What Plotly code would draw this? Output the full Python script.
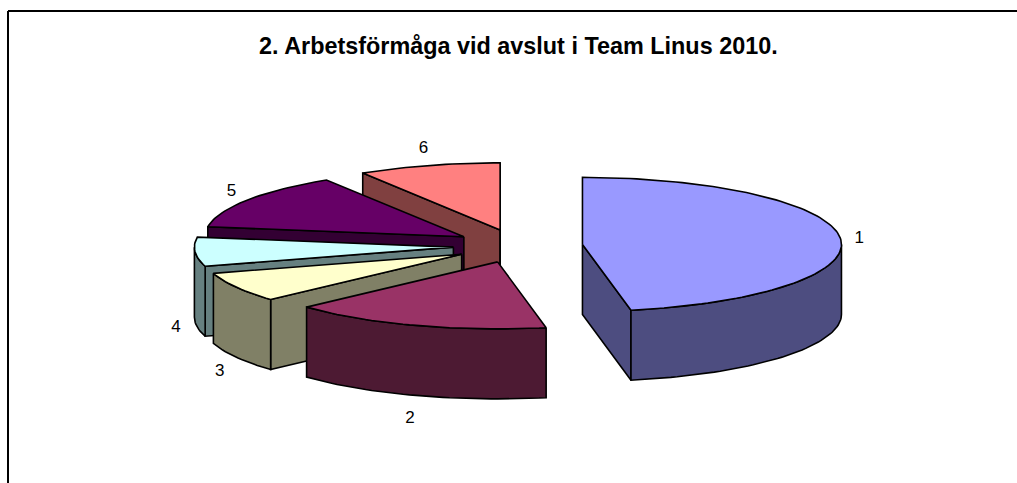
import math
import plotly.graph_objects as go

# ---- data ----
categories = ["1", "2", "3", "4", "5", "6"]
shares = [47.0, 16.2, 7.2, 7.0, 13.7, 8.9]
title_text = "2. Arbetsförmåga vid avslut i Team Linus 2010."

# ---- styling ----
top_colors = ["#9999FF", "#993366", "#FFFFCC", "#CCFFFF", "#660066", "#FF8080"]
wall_colors = ["#4D4D80", "#4D1A33", "#808066", "#668080", "#330033", "#804040"]
FONT = "Liberation Sans, Arial, sans-serif"

# ---- projection of the tilted pie, in the page's pixel space ----
CX, CY = 518.0, 246.0
RX, RY = 259.0, 67.0
DEPTH = 70.0
EXPLODE = 0.25
LABEL_PAD = 19.0
W, H = 1017, 483


def on_rim(apex, deg, drop=0.0):
    a = math.radians(deg)
    return apex[0] + RX * math.sin(a), apex[1] - RY * math.cos(a) + drop


def arc(apex, a0, a1, drop=0.0, step=1.5):
    n = max(2, int(abs(a1 - a0) / step) + 1)
    return [on_rim(apex, a0 + (a1 - a0) * i / (n - 1), drop) for i in range(n)]


def poly(points, color):
    return go.Scatter(
        x=[p[0] for p in points] + [points[0][0]],
        y=[p[1] for p in points] + [points[0][1]],
        mode="lines",
        fill="toself",
        fillcolor=color,
        line=dict(color="black", width=1.6),
        hoverinfo="skip",
        showlegend=False,
    )


total = sum(shares)
slices = []
acc = 0.0
for i, v in enumerate(shares):
    start = acc / total * 360
    acc += v
    end = acc / total * 360
    mid = (start + end) / 2
    m = math.radians(mid)
    apex = (CX + EXPLODE * RX * math.sin(m), CY - EXPLODE * RY * math.cos(m))
    slices.append((i, start, end, mid, apex))

fig = go.Figure()
# painter's order: back slices first, the separated big slice last
for i, start, end, mid, apex in [slices[5], slices[4], slices[3], slices[2], slices[1], slices[0]]:
    down = (apex[0], apex[1] + DEPTH)
    if math.sin(math.radians(start)) < 0:
        p = on_rim(apex, start)
        fig.add_trace(poly([apex, p, (p[0], p[1] + DEPTH), down], wall_colors[i]))
    if math.sin(math.radians(end)) > 0:
        p = on_rim(apex, end)
        fig.add_trace(poly([apex, p, (p[0], p[1] + DEPTH), down], wall_colors[i]))
    lo, hi = max(start, 90), min(end, 270)
    if hi > lo:
        fig.add_trace(poly(arc(apex, lo, hi) + arc(apex, hi, lo, DEPTH), wall_colors[i]))
    fig.add_trace(poly([apex] + arc(apex, start, end), top_colors[i]))

# slice labels sit just outside the rim, along the middle of each slice
for i, start, end, mid, apex in slices:
    m = math.radians(mid)
    rim = on_rim(apex, mid, DEPTH + 3 if 90 < mid < 270 else 0.0)
    fig.add_trace(go.Scatter(
        x=[rim[0] + LABEL_PAD * math.sin(m)],
        y=[rim[1] - LABEL_PAD * math.cos(m) + 2],
        mode="text",
        text=[categories[i]],
        textposition="middle center",
        textfont=dict(family=FONT, size=17, color="black"),
        hoverinfo="skip",
        showlegend=False,
    ))

fig.update_layout(
    width=W,
    height=H,
    autosize=False,
    margin=dict(l=0, r=0, t=0, b=0),
    paper_bgcolor="white",
    plot_bgcolor="white",
    xaxis=dict(range=[0, W], visible=False, fixedrange=True),
    yaxis=dict(range=[H, 0], visible=False, fixedrange=True),
    annotations=[dict(
        text="<b>" + title_text + "</b>",
        x=518.5, y=46, xref="x", yref="y", showarrow=False,
        xanchor="center", yanchor="middle",
        font=dict(family=FONT, size=23.4, color="black"),
    )],
    shapes=[
        dict(type="line", xref="x", yref="y", x0=8, y0=11, x1=W, y1=11, line=dict(color="black", width=2)),
        dict(type="line", xref="x", yref="y", x0=8, y0=11, x1=8, y1=H, line=dict(color="black", width=2)),
    ],
)
fig.write_html(
    "out.html",
    config=dict(displayModeBar=False),
    post_script="document.body.style.margin='0';document.documentElement.style.overflow='hidden';",
)
